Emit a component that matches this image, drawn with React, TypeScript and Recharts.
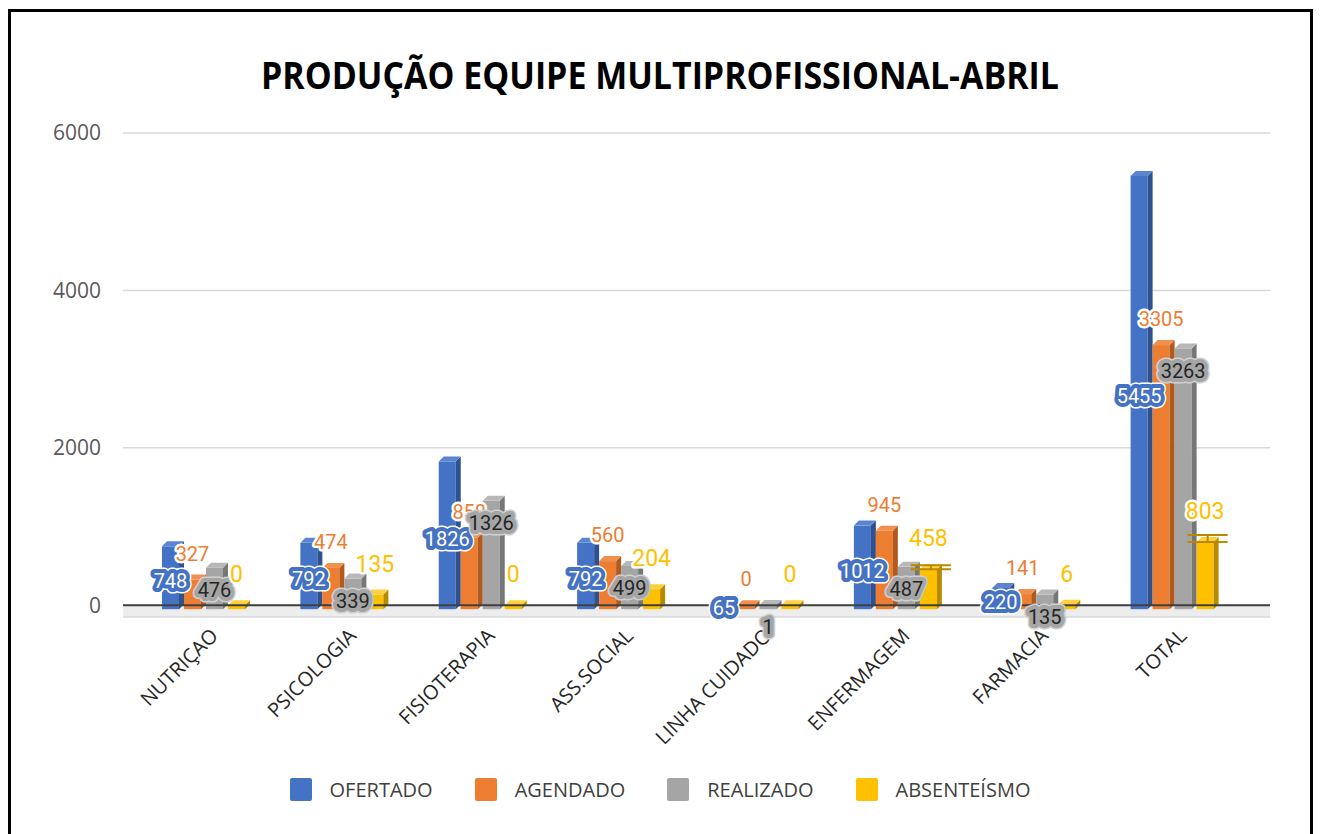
import React from "react";
import {
  BarChart,
  Bar,
  XAxis,
  YAxis,
  CartesianGrid,
  Legend,
  ReferenceLine,
  LabelList,
  ErrorBar,
} from "recharts";

const categories = [
  "NUTRIÇAO",
  "PSICOLOGIA",
  "FISIOTERAPIA",
  "ASS.SOCIAL",
  "LINHA CUIDADO",
  "ENFERMAGEM",
  "FARMACIA",
  "TOTAL",
];
const ofertado = [748, 792, 1826, 792, 65, 1012, 220, 5455];
const agendado = [327, 474, 858, 560, 0, 945, 141, 3305];
const realizado = [476, 339, 1326, 499, 1, 487, 135, 3263];
const absenteismo = [0, 135, 0, 204, 0, 458, 6, 803];
// upper error (only two bars show one)
const absenteismoErr = [0, 0, 0, 0, 0, 50, 0, 90];
const yTicks = [0, 2000, 4000, 6000];

const SERIES = [
  { key: "ofertado", name: "OFERTADO", color: "#4472C4", side: "#2F528F", top: "#5B85D0" },
  { key: "agendado", name: "AGENDADO", color: "#ED7D31", side: "#B05A1F", top: "#F0904E" },
  { key: "realizado", name: "REALIZADO", color: "#A5A5A5", side: "#777777", top: "#B8B8B8" },
  { key: "absenteismo", name: "ABSENTEÍSMO", color: "#FFC000", side: "#B88A00", top: "#FFD040" },
];

const data = categories.map((name, i) => ({
  name,
  ofertado: ofertado[i],
  agendado: agendado[i],
  realizado: realizado[i],
  absenteismo: absenteismo[i],
  absErr: absenteismoErr[i] > 0 ? [0, absenteismoErr[i]] : 0,
}));

const DEPTH = 5;
const LABEL_FONT = "Roboto, 'Noto Sans', sans-serif";
const TEXT_FONT = "'Open Sans', 'Noto Sans', sans-serif";

function make3D(s: (typeof SERIES)[number]) {
  return (props: any) => {
    const { x, y, width, height } = props;
    if (x == null || y == null) return <g />;
    const w = width - DEPTH;
    const h = Math.max(height, 0);
    return (
      <g>
        <rect x={x} y={y} width={w} height={h + 4} fill={s.color} />
        <polygon
          points={`${x + w},${y} ${x + w + DEPTH},${y - DEPTH} ${x + w + DEPTH},${y + h - 1} ${x + w},${y + h + 4}`}
          fill={s.side}
        />
        <polygon
          points={`${x},${y} ${x + DEPTH},${y - DEPTH} ${x + w + DEPTH},${y - DEPTH} ${x + w},${y}`}
          fill={s.top}
        />
      </g>
    );
  };
}

function haloText(
  cx: number,
  cy: number,
  value: any,
  fill: string,
  halo: string,
  size: number,
  outer?: string
) {
  return (
    <g fontFamily={LABEL_FONT} fontSize={size} textAnchor="middle">
      {outer && (
        <text x={cx} y={cy} dy="0.36em" stroke={outer} strokeWidth={11} strokeLinejoin="round" fill={outer}>
          {value}
        </text>
      )}
      <text
        x={cx}
        y={cy}
        dy="0.36em"
        stroke={halo}
        strokeWidth={outer ? 8 : 5}
        strokeLinejoin="round"
        paintOrder="stroke"
        fill={fill}
      >
        {value}
      </text>
    </g>
  );
}

const labelOfertado = (p: any) => {
  const cx = p.x + (p.width - DEPTH) / 2;
  const cy = p.y + p.height / 2 + 5;
  return haloText(cx, cy, p.value, "#FFFFFF", "#4472C4", 20, "#FFFFFF");
};
const labelAgendado = (p: any) => {
  const cx = p.x + (p.width - DEPTH) / 2;
  return haloText(cx, p.y - 26, p.value, "#ED7D31", "#FFFFFF", 20);
};
const labelRealizado = (p: any) => {
  const cx = p.x + (p.width - DEPTH) / 2;
  return haloText(cx, p.y + 22, p.value, "#262626", "#A5A5A5", 20, "#D0D0D0");
};
const labelAbsenteismo = (p: any) => {
  const cx = p.x + (p.width - DEPTH) / 2;
  return haloText(cx, p.y - 31, p.value, "#FFC000", "#FFFFFF", 23);
};
const LABELS: Record<string, (p: any) => any> = {
  ofertado: labelOfertado,
  agendado: labelAgendado,
  realizado: labelRealizado,
  absenteismo: labelAbsenteismo,
};

function XTick({ x, payload }: any) {
  const ax = x + 13;
  const ay = 637;
  return (
    <text
      x={ax}
      y={ay}
      transform={`rotate(-45 ${ax} ${ay})`}
      textAnchor="end"
      fontSize={20}
      fontFamily={TEXT_FONT}
      fill="#262626"
    >
      {payload.value}
    </text>
  );
}

function LegendContent() {
  return (
    <div
      style={{
        display: "flex",
        justifyContent: "center",
        alignItems: "center",
        fontFamily: TEXT_FONT,
        fontSize: 20,
        color: "#404040",
      }}
    >
      {SERIES.map((s, i) => (
        <div
          key={s.key}
          style={{ display: "flex", alignItems: "center", marginRight: i < SERIES.length - 1 ? 42 : 0 }}
        >
          <span
            style={{ width: 22, height: 23, background: s.color, borderRadius: 2, marginRight: 18, display: "inline-block" }}
          />
          <span>{s.name}</span>
        </div>
      ))}
    </div>
  );
}

export default function App() {
  return (
    <div
      style={{
        position: "absolute",
        left: 0,
        top: 0,
        width: 1320,
        height: 834,
        overflow: "hidden",
        background: "#FFFFFF",
      }}
    >
      <div
        style={{
          position: "absolute",
          left: 8,
          top: 9,
          width: 1305,
          height: 900,
          border: "3px solid #000000",
          boxSizing: "border-box",
        }}
      />
      <svg width={1320} height={120} style={{ position: "absolute", left: 0, top: 0 }}>
        <text
          x={660}
          y={89}
          textAnchor="middle"
          textLength={798}
          lengthAdjust="spacingAndGlyphs"
          fontFamily={TEXT_FONT}
          fontWeight={700}
          fontSize={38}
          fill="#000000"
        >
          PRODUÇÃO EQUIPE MULTIPROFISSIONAL-ABRIL
        </text>
      </svg>
      <div style={{ position: "absolute", left: 0, top: 0 }}>
        <BarChart
          width={1320}
          height={834}
          data={data}
          margin={{ top: 133, right: 50, left: 0, bottom: 187 }}
          barGap={0}
          barSize={22}
        >
          <CartesianGrid
            vertical={false}
            stroke="#D9D9D9"
            strokeWidth={1.5}
            horizontalFill={["transparent", "transparent", "transparent", "#EDEDED"]}
            fillOpacity={1}
          />
          <XAxis
            dataKey="name"
            axisLine={false}
            tickLine={false}
            interval={0}
            height={30}
            padding={{ left: 14, right: 26 }}
            tick={<XTick />}
          />
          <YAxis
            type="number"
            domain={[-150, 6000]}
            ticks={yTicks}
            width={123}
            axisLine={false}
            tickLine={false}
            tickMargin={16}
            tick={{ fontSize: 21, fill: "#595959", fontFamily: TEXT_FONT }}
          />
          {SERIES.map((s) => (
            <Bar
              key={s.key}
              dataKey={s.key}
              name={s.name}
              fill={s.color}
              shape={make3D(s)}
              isAnimationActive={false}
            >
              <LabelList dataKey={s.key} content={LABELS[s.key]} />
              {s.key === "absenteismo" && (
                <ErrorBar dataKey="absErr" direction="y" width={20} stroke="#B88A00" strokeWidth={2} />
              )}
            </Bar>
          ))}
          <ReferenceLine y={0} stroke="#404040" strokeWidth={2} />
          <Legend
            verticalAlign="middle"
            align="center"
            layout="horizontal"
            content={<LegendContent />}
            wrapperStyle={{ top: 776, left: 0, width: 1320, height: 30 }}
          />
        </BarChart>
      </div>
    </div>
  );
}
